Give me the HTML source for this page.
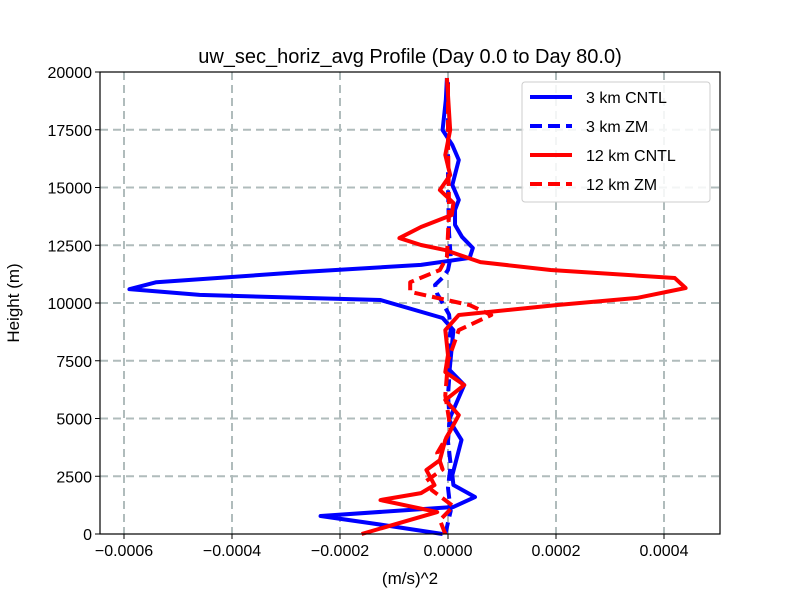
<!DOCTYPE html>
<html><head><meta charset="utf-8"><style>body{margin:0;background:#fff}svg{font-family:"Liberation Sans",sans-serif}</style></head>
<body>
<svg id="c" width="800" height="600"></svg>
<script>
const xTicks=[-0.0006,-0.0004,-0.0002,0,0.0002,0.0004];
const xTickLabels=["\u22120.0006","\u22120.0004","\u22120.0002","0.0000","0.0002","0.0004"];
const yTicks=[0,2500,5000,7500,10000,12500,15000,17500,20000];
const cntl3H=[0,390,780,1170,1600,2120,2550,4070,4940,6450,7100,8830,9350,10130,10350,10600,10900,11340,11650,11950,12380,12860,13380,14030,14460,15110,16190,16840,17490,18800,19740];
const cntl3V=[-0.00001,-0.00012,-0.000236,0.00001,0.00005,0.00001,0.000008,0.000025,0.000002,0.00003,0.000003,0.00001,-0.00001,-0.000125,-0.00046,-0.00059,-0.00054,-0.00027,-0.00005,0.00004,0.000046,0.000026,0.000013,0.000013,0.00002,0.000008,0.00002,0.000008,-0.00001,-0.000004,-0.000002];
const zm3H=[0,1000,2000,3000,4000,5000,6000,7000,8000,8830,9500,10000,10400,10780,11100,11430,12000,13000,15000,17500,19740];
const zm3V=[-0.000005,0.000005,0,0.000005,0,0.000003,0,0.000003,0,0.000005,0.000002,-0.00001,-0.00002,-0.000024,-0.00001,0,0.000005,0.000002,0,0,0];
const cntl12H=[0,950,1470,1770,2120,2770,3200,4070,5150,5800,6450,7010,7750,8830,9480,9910,10220,10650,11080,11430,11770,12290,12510,12810,13290,13810,14330,14890,15540,16410,17490,19740];
const cntl12V=[-0.00016,-0.00002,-0.000125,-0.00005,-0.000025,-0.00004,-0.000015,-0.000005,0.00002,-0.000005,0.00003,-0.000005,0,-0.000005,0.00002,0.0002,0.00035,0.00044,0.00042,0.00019,0.00006,-0.000005,-0.00005,-0.00009,-0.00005,0.000007,0.00001,-0.000015,0.000004,-0.000005,0.000004,-0.000002];
const zm12H=[0,600,1200,1900,2300,2800,3500,4500,6000,7500,8830,9480,9910,10480,10900,11430,12000,14000,17000,19740];
const zm12V=[-0.000005,-0.000015,0.00001,-0.00003,-0.00004,-0.00001,-0.00002,0.000005,-0.000005,0,0.00002,0.00008,0.00004,-0.00007,-0.00007,-0.000015,-0.000002,0.000002,0,0];
const L=100,R=720,T=72,B=534;
const xs=v=>448+v/0.0002*(556-448);
const ys=h=>B-h/20000*(B-T);
const svg=document.getElementById('c');const NS='http://www.w3.org/2000/svg';
function mk(t,a,p){const e=document.createElementNS(NS,t);for(const k in a)e.setAttribute(k,a[k]);(p||svg).appendChild(e);return e;}
const grid=mk('g',{});


xTicks.forEach((v,i)=>{
 const g=mk('line',{x1:xs(v),x2:xs(v),y1:T,y2:B,stroke:'#b0bcbc','stroke-width':2,'stroke-dasharray':'8,5'},grid);
 const t=mk('line',{x1:xs(v),x2:xs(v),y1:B,y2:B+5,stroke:'#000'});
 const tx=mk('text',{x:xs(v),y:B+22,'text-anchor':'middle','font-size':16});tx.textContent=xTickLabels[i];
 
 
});
yTicks.forEach(v=>{
 if(v>0&&v<20000)mk('line',{x1:L,x2:R,y1:ys(v),y2:ys(v),stroke:'#b0bcbc','stroke-width':2,'stroke-dasharray':'8,5'},grid);
 mk('line',{x1:L-5,x2:L,y1:ys(v),y2:ys(v),stroke:'#000'});
 const tx=mk('text',{x:L-8,y:ys(v)+6,'text-anchor':'end','font-size':16});tx.textContent=v;
 
 
});
function line(H,V,col,dash,name){
 const p=mk('polyline',{points:H.map((h,i)=>xs(V[i])+','+ys(h)).join(' '),fill:'none',stroke:col,'stroke-width':4,'stroke-linejoin':'round','stroke-dasharray':dash||'none'});
 
 
}
line(cntl3H,cntl3V,'#0000ff',null,'series-3km-cntl');
line(zm3H,zm3V,'#0000ff','12,6','series-3km-zm');
line(cntl12H,cntl12V,'#ff0000',null,'series-12km-cntl');
line(zm12H,zm12V,'#ff0000','12,6','series-12km-zm');
mk('rect',{x:L,y:T,width:R-L,height:B-T,fill:'none',stroke:'#000','stroke-width':1.2});
const title=mk('text',{x:410,y:63,'text-anchor':'middle','font-size':20});title.textContent='uw_sec_horiz_avg Profile (Day 0.0 to Day 80.0)';


const xl=mk('text',{x:410,y:584,'text-anchor':'middle','font-size':17});xl.textContent='(m/s)^2';


const yl=mk('text',{x:19,y:303,'text-anchor':'middle','font-size':17,transform:'rotate(-90 19 303)'});yl.textContent='Height (m)';


const lg=mk('g',{});


mk('rect',{x:522,y:82,width:188,height:120,rx:3,fill:'#fff','fill-opacity':0.85,stroke:'#ccc'},lg);
[['3 km CNTL','#0000ff',null],['3 km ZM','#0000ff','12,6'],['12 km CNTL','#ff0000',null],['12 km ZM','#ff0000','12,6']].forEach((e,i)=>{
 const y=97+i*29;
 mk('line',{x1:530,x2:572,y1:y,y2:y,stroke:e[1],'stroke-width':4,'stroke-dasharray':e[2]||'none'},lg);
 const t=mk('text',{x:586,y:y+6,'font-size':16},lg);t.textContent=e[0];
 
 
});
</script>
</body></html>
